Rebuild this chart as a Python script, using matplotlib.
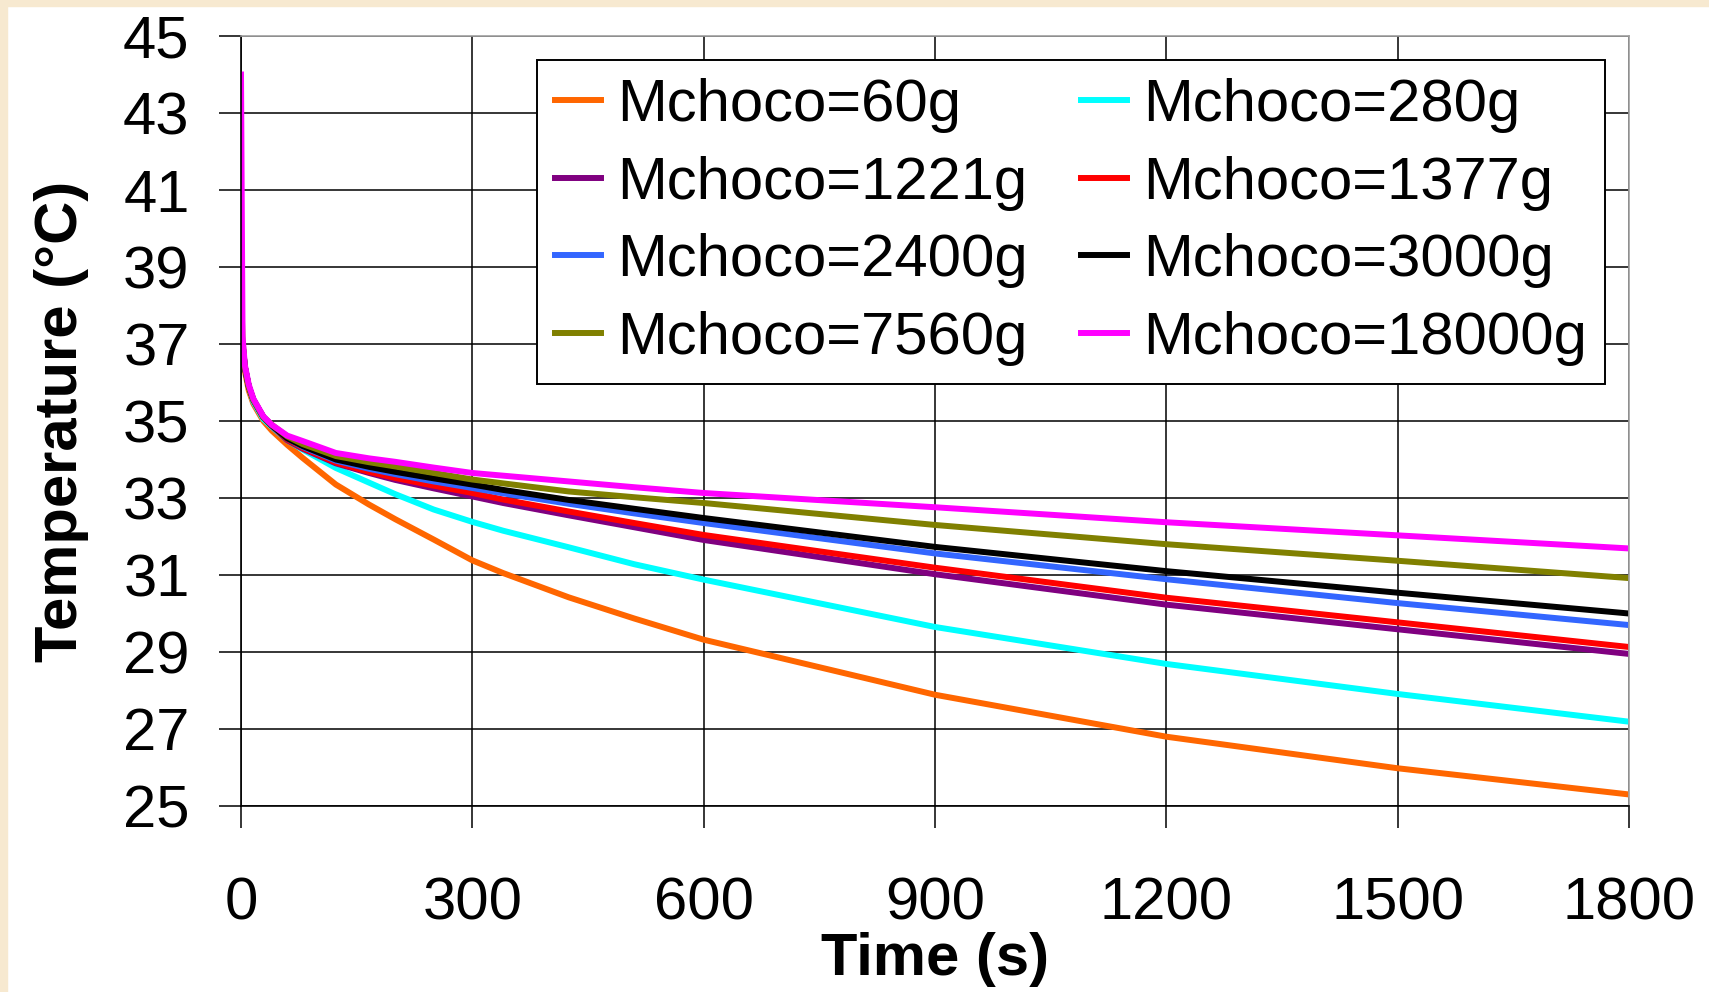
import matplotlib
matplotlib.use('Agg')
import matplotlib.pyplot as plt
from matplotlib.patches import Rectangle

plt.rcParams['font.family'] = ['Liberation Sans', 'DejaVu Sans']

# Tiempo (s) en el que se leyeron los valores
tiempo = [0, 2, 5, 10, 16, 29, 40, 60, 80, 123, 166, 200, 250, 300, 340, 425, 510, 600, 900, 1200, 1500, 1800]

# Temperatura (°C) de cada masa de chocolate
t_60 = [37.0, 36.9, 36.3, 35.8, 35.45, 35.0, 34.75, 34.38, 34.04, 33.35, 32.83, 32.45, 31.92, 31.38, 31.05,
        30.42, 29.87, 29.32, 27.89, 26.80, 25.98, 25.30]
t_280 = [37.2, 37.0, 36.4, 35.9, 35.5, 35.05, 34.85, 34.5, 34.26, 33.78, 33.40, 33.10, 32.70, 32.38, 32.15,
         31.72, 31.28, 30.88, 29.65, 28.69, 27.91, 27.19]
t_1221 = [37.2, 37.0, 36.4, 35.9, 35.55, 35.1, 34.88, 34.5, 34.28, 33.90, 33.65, 33.47, 33.25, 33.04, 32.87,
          32.55, 32.24, 31.91, 31.02, 30.23, 29.59, 28.95]
t_1377 = [37.2, 37.0, 36.4, 35.9, 35.55, 35.1, 34.88, 34.52, 34.30, 33.92, 33.68, 33.52, 33.32, 33.13, 32.96,
          32.65, 32.35, 32.04, 31.19, 30.41, 29.77, 29.13]
t_2400 = [37.2, 37.0, 36.4, 35.9, 35.55, 35.1, 34.88, 34.55, 34.33, 33.97, 33.76, 33.62, 33.43, 33.26, 33.12,
          32.85, 32.60, 32.35, 31.56, 30.89, 30.27, 29.70]
t_3000 = [37.3, 37.0, 36.4, 35.9, 35.55, 35.1, 34.88, 34.55, 34.35, 34.00, 33.81, 33.68, 33.51, 33.35, 33.21,
          32.95, 32.72, 32.48, 31.73, 31.10, 30.54, 30.00]
t_7560 = [38.5, 37.1, 36.4, 35.9, 35.55, 35.1, 34.9, 34.6, 34.40, 34.09, 33.93, 33.82, 33.65, 33.48, 33.38,
          33.17, 33.02, 32.87, 32.30, 31.80, 31.37, 30.92]
t_18000 = [44.0, 37.2, 36.45, 35.95, 35.58, 35.12, 34.9, 34.62, 34.48, 34.17, 34.03, 33.94, 33.79, 33.65, 33.58,
           33.43, 33.28, 33.13, 32.76, 32.37, 32.03, 31.69]

etiquetas = ['Mchoco=60g', 'Mchoco=280g', 'Mchoco=1221g', 'Mchoco=1377g',
             'Mchoco=2400g', 'Mchoco=3000g', 'Mchoco=7560g', 'Mchoco=18000g']
series = [t_60, t_280, t_1221, t_1377, t_2400, t_3000, t_7560, t_18000]
colores = ['#FF6600', '#00FFFF', '#800080', '#FF0000',
           '#3366FF', '#000000', '#808000', '#FF00FF']

y_ticks = list(range(25, 46, 2))
x_ticks = list(range(0, 1801, 300))

fig = plt.figure(figsize=(17.09, 9.92), dpi=100)
fig.patch.set_facecolor('white')
# franjas beige del borde
fig.patches.append(Rectangle((0, 0), 7 / 1709, 1, transform=fig.transFigure,
                             color='#F7E9D0', zorder=0))
fig.patches.append(Rectangle((0, 1 - 6 / 992), 1, 6 / 992, transform=fig.transFigure,
                             color='#F7E9D0', zorder=0))

ax = fig.add_axes([241 / 1709, 1 - 806 / 992, 1388 / 1709, 770 / 992])

lineas = []
for valores, etiqueta, color in zip(series, etiquetas, colores):
    l, = ax.plot(tiempo, valores, color=color, linewidth=4.3, label=etiqueta,
                 solid_joinstyle='round')
    lineas.append(l)

ax.set_xlim(0, 1800)
ax.set_ylim(25, 45)
ax.set_xticks(x_ticks)
ax.set_yticks(y_ticks)
ax.set_axisbelow(True)
ax.grid(True, color='black', linewidth=1.1)

ax.spines['left'].set_color('black')
ax.spines['bottom'].set_color('black')
ax.spines['top'].set_color('#A0A0A0')
ax.spines['right'].set_color('#A0A0A0')
for s in ax.spines.values():
    s.set_linewidth(1.2)

ax.tick_params(axis='both', direction='out', length=16, width=1.1, labelsize=43, color='black')
ax.tick_params(axis='y', pad=21)
ax.tick_params(axis='x', pad=35)

ax.set_xlabel('Time (s)', fontsize=43, fontweight='bold', va='center')
ax.xaxis.set_label_coords(0.5, -0.199)
ax.set_ylabel('Temperature (°C)', fontsize=43, fontweight='bold', va='center')
ax.yaxis.set_label_coords(-0.129, 0.5)

# orden por columnas para que quede como en la leyenda original
orden = [0, 2, 4, 6, 1, 3, 5, 7]
leg = ax.legend([lineas[i] for i in orden], [etiquetas[i] for i in orden],
                ncol=2, loc='upper right', bbox_to_anchor=(0.9827, 0.9688),
                borderaxespad=0, fontsize=43, handlelength=0.77, handletextpad=0.27,
                columnspacing=0.9, labelspacing=0.38, borderpad=0.3,
                fancybox=False, framealpha=1, edgecolor='black')
leg.get_frame().set_linewidth(1.4)

fig.savefig('out.png', dpi=100)
